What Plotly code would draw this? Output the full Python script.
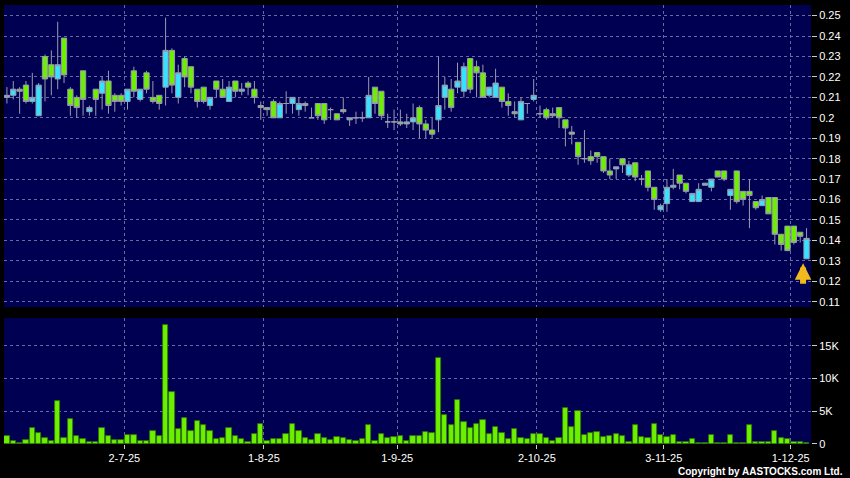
import plotly.graph_objects as go

# ---- data (trading-day index 0 = first candle) ----
tick_days = [19, 41, 62, 84, 104, 124]
tick_labels = ["2-7-25", "1-8-25", "1-9-25", "2-10-25", "3-11-25", "1-12-25"]

opens = [0.210, 0.211, 0.214, 0.216, 0.208, 0.201, 0.230, 0.226, 0.219, 0.239,
         0.214, 0.210, 0.223, 0.203, 0.214, 0.212, 0.218, 0.211, 0.211, 0.208,
         0.223, 0.209, 0.222, 0.210, 0.211, 0.215, 0.233, 0.210, 0.229, 0.225,
         0.214, 0.215, 0.206, 0.218, 0.214, 0.208, 0.218, 0.213, 0.217, 0.214,
         0.206, 0.205, 0.208, 0.200, 0.207, 0.207, 0.204, 0.207, 0.200, 0.207,
         0.207, 0.204, 0.202, 0.204, 0.199, 0.200, 0.200, 0.200, 0.215, 0.213,
         0.198, 0.198, 0.198, 0.197, 0.198, 0.205, 0.197, 0.194, 0.199, 0.210,
         0.214, 0.215, 0.213, 0.229, 0.225, 0.222, 0.211, 0.210, 0.215, 0.208,
         0.203, 0.199, 0.207, 0.209, 0.202, 0.204, 0.202, 0.205, 0.199, 0.193,
         0.188, 0.180, 0.181, 0.183, 0.181, 0.174, 0.175, 0.180, 0.172, 0.178,
         0.170, 0.174, 0.166, 0.155, 0.158, 0.166, 0.172, 0.168, 0.159, 0.159,
         0.167, 0.166, 0.174, 0.174, 0.162, 0.174, 0.164, 0.164, 0.159, 0.157,
         0.161, 0.161, 0.143, 0.147, 0.147, 0.144, 0.131]
highs = [0.215, 0.218, 0.215, 0.218, 0.222, 0.217, 0.231, 0.233, 0.247, 0.239,
         0.215, 0.211, 0.223, 0.206, 0.214, 0.220, 0.223, 0.212, 0.212, 0.214,
         0.225, 0.214, 0.223, 0.218, 0.211, 0.249, 0.234, 0.226, 0.230, 0.225,
         0.214, 0.215, 0.210, 0.218, 0.219, 0.218, 0.218, 0.217, 0.218, 0.218,
         0.208, 0.205, 0.209, 0.208, 0.213, 0.210, 0.210, 0.208, 0.205, 0.207,
         0.207, 0.205, 0.202, 0.210, 0.200, 0.203, 0.203, 0.220, 0.215, 0.213,
         0.202, 0.204, 0.204, 0.202, 0.207, 0.206, 0.199, 0.200, 0.230, 0.220,
         0.219, 0.227, 0.227, 0.229, 0.228, 0.226, 0.215, 0.224, 0.215, 0.212,
         0.208, 0.210, 0.207, 0.219, 0.206, 0.205, 0.205, 0.205, 0.199, 0.196,
         0.188, 0.194, 0.184, 0.183, 0.181, 0.180, 0.176, 0.180, 0.179, 0.178,
         0.172, 0.174, 0.166, 0.158, 0.170, 0.175, 0.172, 0.168, 0.163, 0.168,
         0.168, 0.170, 0.174, 0.174, 0.165, 0.174, 0.164, 0.170, 0.159, 0.162,
         0.161, 0.161, 0.143, 0.147, 0.147, 0.144, 0.146]
lows = [0.207, 0.209, 0.202, 0.207, 0.207, 0.201, 0.208, 0.211, 0.214, 0.217,
        0.201, 0.200, 0.201, 0.201, 0.201, 0.204, 0.202, 0.203, 0.206, 0.204,
        0.210, 0.208, 0.212, 0.207, 0.204, 0.206, 0.212, 0.207, 0.215, 0.212,
        0.205, 0.207, 0.204, 0.210, 0.210, 0.208, 0.210, 0.211, 0.211, 0.207,
        0.199, 0.201, 0.200, 0.200, 0.202, 0.202, 0.201, 0.203, 0.200, 0.199,
        0.197, 0.199, 0.199, 0.202, 0.196, 0.197, 0.198, 0.200, 0.202, 0.199,
        0.195, 0.194, 0.196, 0.195, 0.194, 0.190, 0.190, 0.190, 0.193, 0.204,
        0.203, 0.212, 0.210, 0.212, 0.210, 0.210, 0.210, 0.210, 0.205, 0.201,
        0.200, 0.199, 0.202, 0.208, 0.200, 0.199, 0.200, 0.195, 0.186, 0.187,
        0.177, 0.178, 0.177, 0.178, 0.173, 0.170, 0.170, 0.173, 0.171, 0.169,
        0.167, 0.164, 0.155, 0.154, 0.154, 0.165, 0.165, 0.163, 0.159, 0.159,
        0.167, 0.164, 0.171, 0.169, 0.155, 0.158, 0.157, 0.146, 0.155, 0.157,
        0.153, 0.138, 0.135, 0.135, 0.138, 0.139, 0.131]
closes = [0.211, 0.214, 0.213, 0.208, 0.210, 0.216, 0.219, 0.220, 0.226, 0.221,
          0.206, 0.205, 0.209, 0.205, 0.209, 0.218, 0.206, 0.208, 0.208, 0.214,
          0.213, 0.214, 0.214, 0.208, 0.207, 0.233, 0.216, 0.222, 0.220, 0.215,
          0.208, 0.208, 0.210, 0.214, 0.210, 0.215, 0.213, 0.214, 0.215, 0.210,
          0.205, 0.204, 0.200, 0.207, 0.207, 0.210, 0.207, 0.206, 0.200, 0.201,
          0.199, 0.204, 0.199, 0.203, 0.200, 0.200, 0.200, 0.211, 0.207, 0.201,
          0.198, 0.198, 0.197, 0.198, 0.200, 0.197, 0.194, 0.192, 0.206, 0.216,
          0.205, 0.218, 0.225, 0.214, 0.222, 0.210, 0.215, 0.217, 0.208, 0.206,
          0.202, 0.208, 0.207, 0.211, 0.202, 0.200, 0.201, 0.200, 0.195, 0.192,
          0.181, 0.180, 0.179, 0.181, 0.174, 0.172, 0.176, 0.177, 0.177, 0.171,
          0.170, 0.166, 0.160, 0.157, 0.166, 0.167, 0.168, 0.164, 0.163, 0.165,
          0.168, 0.170, 0.171, 0.170, 0.165, 0.159, 0.160, 0.162, 0.156, 0.160,
          0.153, 0.143, 0.138, 0.135, 0.139, 0.142, 0.141]
volumes = [1200, 430, 170, 630, 2370, 1700, 990, 430, 6540, 990,
           3790, 1190, 780, 320, 320, 2460, 1240, 580, 580, 1350,
           1390, 430, 430, 2060, 1190, 18120, 7970, 2310, 3990, 1910,
           3530, 2870, 1960, 690, 930, 2420, 1190, 730, 280, 1600,
           3070, 430, 730, 780, 1600, 2980, 1910, 840, 580, 1500,
           990, 580, 1040, 840, 580, 430, 780, 2870, 470, 1500,
           930, 1090, 1150, 430, 1190, 1150, 1850, 1650, 13070, 4450,
           2870, 6650, 3330, 2420, 3030, 3640, 1540, 2570, 1700, 780,
           2310, 840, 690, 1540, 1500, 930, 430, 890, 5520, 2520,
           5020, 1450, 1700, 1850, 1090, 1190, 1600, 1190, 280, 2870,
           1090, 890, 2980, 1350, 1090, 1390, 230, 380, 690, 80,
           80, 1300, 80, 170, 1450, 80, 170, 2870, 280, 230,
           230, 1960, 930, 690, 280, 320, 170]

price_ticks = [0.11, 0.12, 0.13, 0.14, 0.15, 0.16, 0.17, 0.18, 0.19, 0.20,
               0.21, 0.22, 0.23, 0.24, 0.25]
price_tick_text = ["0.11", "0.12", "0.13", "0.14", "0.15", "0.16", "0.17", "0.18",
                   "0.19", "0.2", "0.21", "0.22", "0.23", "0.24", "0.25"]
vol_ticks = [0, 5000, 10000, 15000]
vol_tick_text = ["0", "5K", "10K", "15K"]

# ---- styling ----
BG = "#000052"
GRID = "#6a6aa2"
UP_FILL = "#35e2ff"
DOWN_FILL = "#6cf000"
WICK = "#9a9aae"
FONT = "Liberation Sans, Arial, sans-serif"

n = len(closes)
idx = list(range(n))
xr = [-0.46, n - 1 + 0.7]
grid_pos = [d - 0.5 for d in tick_days]

fig = go.Figure()
fig.add_trace(go.Candlestick(
    x=idx, open=opens, high=highs, low=lows, close=closes,
    xaxis="x2", yaxis="y",
    increasing=dict(fillcolor=UP_FILL, line=dict(color=WICK, width=1)),
    decreasing=dict(fillcolor=DOWN_FILL, line=dict(color=WICK, width=1)),
    whiskerwidth=0, hoverinfo="skip", showlegend=False,
))
fig.add_trace(go.Bar(
    x=idx, y=volumes, xaxis="x", yaxis="y2", width=0.84,
    marker=dict(color=DOWN_FILL, line=dict(color="#2f7a00", width=0.8)),
    hoverinfo="skip", showlegend=False,
))

axis_common = dict(showgrid=True, gridcolor=GRID, griddash="3px,3px", gridwidth=1,
                   zeroline=False, showline=False)

fig.update_layout(
    width=850, height=478,
    paper_bgcolor="black", plot_bgcolor=BG,
    margin=dict(l=4, r=39, t=5, b=34),
    font=dict(family=FONT, color="white", size=11),
    bargap=0, boxgap=0.17, boxgroupgap=0,
    xaxis=dict(domain=[0, 1], anchor="y2", range=xr, tickmode="array",
               tickvals=grid_pos, ticktext=tick_labels, ticks="outside",
               ticklen=4, tickcolor="#cccccc", tickfont=dict(size=11, color="white"),
               rangeslider=dict(visible=False), **axis_common),
    xaxis2=dict(domain=[0, 1], anchor="y", range=xr, matches="x", tickmode="array",
                tickvals=grid_pos, showticklabels=False, ticks="",
                rangeslider=dict(visible=False), **axis_common),
    yaxis=dict(domain=[0.312, 1], anchor="x2", side="right", range=[0.1074, 0.2552],
               tickmode="array", tickvals=price_ticks, ticktext=price_tick_text,
               ticks="outside", ticklen=5, tickcolor="#cccccc",
               tickfont=dict(size=11, color="white"), **axis_common),
    yaxis2=dict(domain=[0, 0.287], anchor="x", side="right", range=[0, 19240],
                tickmode="array", tickvals=vol_ticks, ticktext=vol_tick_text,
                ticks="outside", ticklen=5, tickcolor="#cccccc",
                tickfont=dict(size=11, color="white"), **axis_common),
)

# marker arrow pointing to the latest candle
fig.add_annotation(
    x=idx[-1] - 0.55, y=lows[-1] - 0.0022, xref="x2", yref="y",
    ax=0, ay=22, text="", showarrow=True,
    arrowhead=2, arrowsize=0.55, arrowwidth=6, arrowcolor="#f2b91e",
)

fig.add_annotation(
    text="<b>Copyright by AASTOCKS.com Ltd.</b>", xref="paper", yref="paper",
    x=1.042, y=-0.0626, xanchor="right", yanchor="middle", showarrow=False,
    font=dict(family=FONT, size=10, color="white"),
)

fig.write_html("out.html", config={"displayModeBar": False},
               post_script="document.body.style.margin='0px';")
